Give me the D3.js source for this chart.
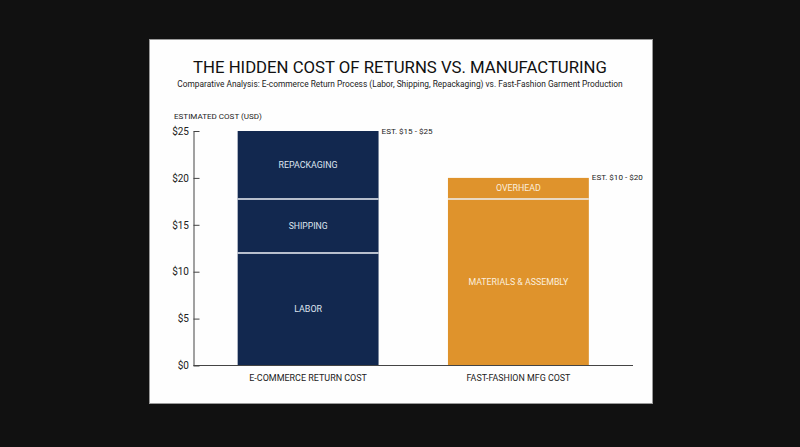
<!DOCTYPE html>
<html><head><meta charset="utf-8">
<script src="https://cdn.jsdelivr.net/npm/d3@7"></script>
<style>
html,body{margin:0;padding:0;background:#111111;}
svg{display:block;}
text{font-family:Roboto,"Liberation Sans",Arial,sans-serif;}
</style></head>
<body>
<svg id="chart" width="800" height="447"></svg>
<script>
const categories = ["E-COMMERCE RETURN COST", "FAST-FASHION MFG COST"];
const segmentNames = [
  ["LABOR", "SHIPPING", "REPACKAGING"],
  ["MATERIALS & ASSEMBLY", "OVERHEAD"]
];
const segmentValues = [
  [12, 5.75, 7.25],
  [17.75, 2.25]
];
const estimateLabels = ["EST. $15 - $25", "EST. $10 - $20"];
const barColors = ["#12284f", "#df932c"];
const yTicks = [0, 5, 10, 15, 20, 25];
const titleText = "THE HIDDEN COST OF RETURNS VS. MANUFACTURING";
const subtitleText = "Comparative Analysis: E-commerce Return Process (Labor, Shipping, Repackaging) vs. Fast-Fashion Garment Production";
const yAxisTitle = "ESTIMATED COST (USD)";

const svg = d3.select("#chart");
svg.append("rect").attr("width", 800).attr("height", 447).attr("fill", "#111111");
svg.append("rect").attr("x", 149.5).attr("y", 39.5).attr("width", 503).attr("height", 364)
  .attr("fill", "#fefefe").attr("stroke", "#9a9a9a").attr("stroke-width", 1);

// scale font-size so the text's width matches the reference width
function fit(sel, w) {
  const n = sel.node();
  const cur = n.getComputedTextLength();
  const fs = parseFloat(sel.attr("font-size"));
  sel.attr("font-size", (fs * w / cur).toFixed(2));
  return sel;
}

const title = svg.append("text").attr("x", 400).attr("y", 73.3).attr("text-anchor", "middle")
  .attr("font-size", 18).attr("fill", "#111").text(titleText);
fit(title, 414);
const sub = svg.append("text").attr("x", 400).attr("y", 87.3).attr("text-anchor", "middle")
  .attr("font-size", 9.5).attr("fill", "#222").text(subtitleText);
fit(sub, 446);
const yt = svg.append("text").attr("x", 174).attr("y", 119.3).attr("font-size", 8.5)
  .attr("fill", "#222").text(yAxisTitle);
fit(yt, 88);

const x = d3.scaleBand().domain(categories).range([193.5, 633]).paddingInner(0.33).paddingOuter(0.21);
const y = d3.scaleLinear().domain([0, 25]).range([365.5, 131]);

// y axis
const yAxis = svg.append("g").attr("transform", "translate(193.5,0)")
  .call(d3.axisLeft(y).tickValues(yTicks).tickSize(-6).tickSizeOuter(0).tickPadding(4.5).tickFormat(d => "$" + d));
yAxis.select(".domain").attr("stroke", "#444");
yAxis.selectAll(".tick line").attr("stroke", "#444");
yAxis.selectAll(".tick text").attr("font-size", 10).attr("fill", "#222")
  .attr("font-family", "Roboto, 'Liberation Sans', Arial, sans-serif");

const segWidths = [[28, 39, 59], [100, 45]];
const estWidths = [51, 51];
const catWidths = [117.7, 104];

// bars
categories.forEach((cat, i) => {
  let acc = 0;
  const g = svg.append("g");
  segmentValues[i].forEach((v, j) => {
    const y0 = acc, y1 = acc + v;
    acc = y1;
    g.append("rect").attr("x", x(cat)).attr("width", x.bandwidth())
      .attr("y", y(y1)).attr("height", y(y0) - y(y1)).attr("fill", barColors[i]);
    const t = g.append("text").attr("x", x(cat) + x.bandwidth() / 2).attr("y", (y(y0) + y(y1)) / 2)
      .attr("text-anchor", "middle").attr("dominant-baseline", "central")
      .attr("font-size", 9).attr("fill", i === 0 ? "#dfe5f0" : "#fbeedd").text(segmentNames[i][j]);
    fit(t, segWidths[i][j]);
  });
  // separators
  let acc2 = 0;
  segmentValues[i].slice(0, -1).forEach(v => {
    acc2 += v;
    g.append("line").attr("x1", x(cat)).attr("x2", x(cat) + x.bandwidth())
      .attr("y1", y(acc2)).attr("y2", y(acc2)).attr("stroke", "#eef1f6").attr("stroke-width", 1.6);
  });
  // estimate label
  const e = svg.append("text").attr("x", x(cat) + x.bandwidth() + 3).attr("y", y(acc))
    .attr("dominant-baseline", "central").attr("font-size", 9).attr("fill", "#222").text(estimateLabels[i]);
  fit(e, estWidths[i]);
  // category label
  const c = svg.append("text").attr("x", x(cat) + x.bandwidth() / 2).attr("y", 380.5)
    .attr("text-anchor", "middle").attr("font-size", 9.5).attr("fill", "#222").text(cat);
  fit(c, catWidths[i]);
});

// x baseline
svg.append("line").attr("x1", 193.5).attr("x2", 633).attr("y1", y(0)).attr("y2", y(0))
  .attr("stroke", "#444").attr("stroke-width", 1);
</script>
</body></html>
